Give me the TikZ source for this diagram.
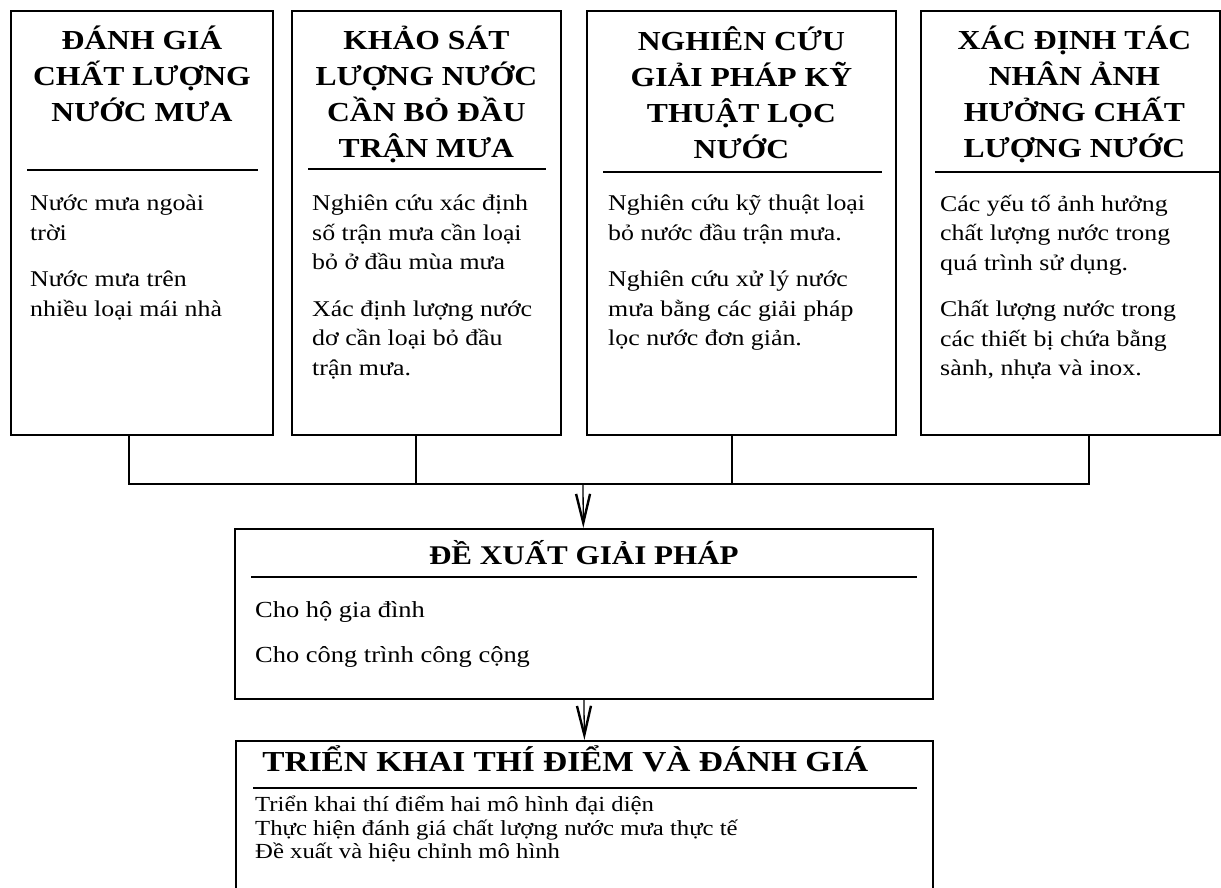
\documentclass[tikz,border=0pt]{standalone}
\usepackage{fontspec}
\setmainfont{Liberation Serif}[FakeStretch=1.15]
\usetikzlibrary{arrows.meta,positioning}

\begin{document}
\begin{tikzpicture}[x=1pt,y=-1pt,
  colbox/.style={draw,line width=1.8pt,anchor=north west,inner sep=0pt,minimum height=424pt},
  head/.style={font=\fontsize{27.5}{36}\selectfont\bfseries,align=center,inner sep=0pt},
  body/.style={font=\fontsize{22.5}{29.5}\selectfont,align=left,inner sep=0pt},
  rule/.style={line width=1.8pt},
  link/.style={line width=1.3pt},
  flow/.style={line width=1.3pt,-{Straight Barb[length=29pt,width=14pt,line width=2.4pt]}}]
\useasboundingbox (0,0) rectangle (1221,888);

% four study columns
\node[colbox,minimum width=262pt] (eval) at (10,10) {};
\node[colbox,minimum width=269pt] (surv) at (291,10) {};
\node[colbox,minimum width=309pt] (filt) at (586,10) {};
\node[colbox,minimum width=299pt] (fact) at (920,10) {};

\node[head,below=16pt of eval.north] (evalT) {ĐÁNH GIÁ\\CHẤT LƯỢNG\\NƯỚC MƯA};
\node[head,below=16pt of surv.north] (survT) {KHẢO SÁT\\LƯỢNG NƯỚC\\CẦN BỎ ĐẦU\\TRẬN MƯA};
\node[head,below=16pt of filt.north] (filtT) {NGHIÊN CỨU\\GIẢI PHÁP KỸ\\THUẬT LỌC\\NƯỚC};
\node[head,below=16pt of fact.north,xshift=4pt] (factT) {XÁC ĐỊNH TÁC\\NHÂN ẢNH\\HƯỞNG CHẤT\\LƯỢNG NƯỚC};

\draw[rule] ([shift={(17pt,-160pt)}]eval.north west) -- ([shift={(-16pt,-160pt)}]eval.north east);
\draw[rule] ([shift={(17pt,-159pt)}]surv.north west) -- ([shift={(-16pt,-159pt)}]surv.north east);
\draw[rule] ([shift={(17pt,-162pt)}]filt.north west) -- ([shift={(-15pt,-162pt)}]filt.north east);
\draw[rule] ([shift={(15pt,-162pt)}]fact.north west) -- ([shift={(-1pt,-162pt)}]fact.north east);

\node[body,below right=185pt and 20pt of eval.north west] (evalB) {Nước mưa ngoài\\trời\\[17pt]Nước mưa trên\\nhiều loại mái nhà};
\node[body,below right=185pt and 21pt of surv.north west] (survB) {Nghiên cứu xác định\\số trận mưa cần loại\\bỏ ở đầu mùa mưa\\[17pt]Xác định lượng nước\\dơ cần loại bỏ đầu\\trận mưa.};
\node[body,below right=185pt and 22pt of filt.north west] (filtB) {Nghiên cứu kỹ thuật loại\\bỏ nước đầu trận mưa.\\[17pt]Nghiên cứu xử lý nước\\mưa bằng các giải pháp\\lọc nước đơn giản.};
\node[body,below right=185pt and 20pt of fact.north west] (factB) {Các yếu tố ảnh hưởng\\chất lượng nước trong\\quá trình sử dụng.\\[17pt]Chất lượng nước trong\\các thiết bị chứa bằng\\sành, nhựa và inox.};

% proposal and pilot boxes
\node[colbox,minimum width=698pt,minimum height=170pt] (prop) at (234,528) {};
\node[head,font=\fontsize{27}{32}\selectfont\bfseries,below=12pt of prop.north] (propT) {ĐỀ XUẤT GIẢI PHÁP};
\draw[rule] ([shift={(17pt,-49pt)}]prop.north west) -- ([shift={(-17pt,-49pt)}]prop.north east);
\node[body,font=\fontsize{23}{45}\selectfont,below right=73pt and 21pt of prop.north west] (propB) {Cho hộ gia đình\\Cho công trình công cộng};

\node[colbox,minimum width=697pt,minimum height=170pt] (pilot) at (235,740) {};
\node[head,font=\fontsize{29}{32}\selectfont\bfseries,below=5pt of pilot.north,xshift=-19pt] (pilotT) {TRIỂN KHAI THÍ ĐIỂM VÀ ĐÁNH GIÁ};
\draw[rule] ([shift={(18pt,-48pt)}]pilot.north west) -- ([shift={(-17pt,-48pt)}]pilot.north east);
\node[body,font=\fontsize{21.5}{23.5}\selectfont,below right=56pt and 20pt of pilot.north west] (pilotB) {Triển khai thí điểm hai mô hình đại diện\\Thực hiện đánh giá chất lượng nước mưa thực tế\\Đề xuất và hiệu chỉnh mô hình};

% connectors
\coordinate (bus) at (583,484);
\draw[link] ([xshift=-13pt]eval.south) |- (bus) -| ([xshift=18.5pt]fact.south);
\draw[link] ([xshift=-10.5pt]surv.south) -- ([xshift=-10.5pt]surv.south |- bus);
\draw[link] ([xshift=-9.5pt]filt.south) -- ([xshift=-9.5pt]filt.south |- bus);
\draw[flow] (bus) -- (prop);
\draw[flow] (prop.south) -- (pilot.north);
\end{tikzpicture}
\end{document}
